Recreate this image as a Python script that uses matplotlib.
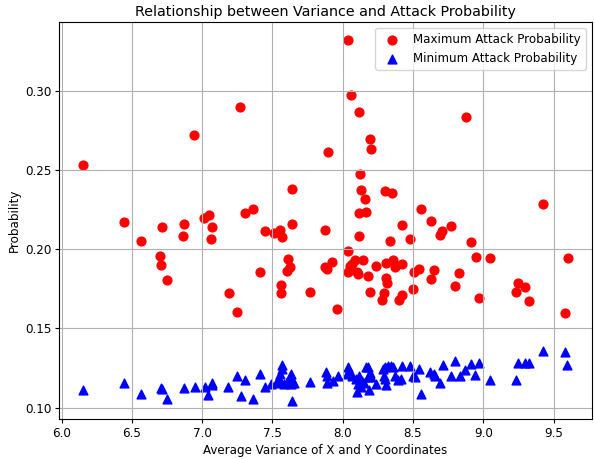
import matplotlib
matplotlib.use("Agg")
import matplotlib.pyplot as plt

# values
max_x = [6.154, 6.442, 6.562, 6.718, 6.697, 6.709, 6.751, 6.874, 6.867, 6.945,
         7.011, 7.047, 7.068, 7.063, 7.188, 7.249, 7.273, 7.304, 7.361, 7.415,
         7.446, 7.514, 7.557, 7.571, 7.611, 7.623, 7.604, 7.561, 7.559, 7.637,
         7.637, 7.769, 7.873, 7.887, 7.877, 7.892, 7.927, 7.962, 8.036, 8.060,
         8.114, 8.038, 8.035, 8.050, 8.066, 8.090, 8.099, 8.106, 8.116, 8.116,
         8.120, 8.130, 8.142, 8.158, 8.165, 8.182, 8.191, 8.203, 8.191, 8.236,
         8.281, 8.297, 8.302, 8.307, 8.309, 8.316, 8.335, 8.354, 8.361, 8.370,
         8.401, 8.420, 8.422, 8.425, 8.479, 8.502, 8.505, 8.542, 8.559, 8.625,
         8.627, 8.653, 8.691, 8.708, 8.771, 8.797, 8.825, 8.875, 8.911, 8.946,
         8.970, 9.047, 9.234, 9.248, 9.300, 9.329, 9.428, 9.584, 9.600]
max_p = [0.2530, 0.2170, 0.2055, 0.2138, 0.1956, 0.1901, 0.1804, 0.2159, 0.2083, 0.2722,
         0.2199, 0.2215, 0.2143, 0.2067, 0.1722, 0.1606, 0.2898, 0.2230, 0.2251, 0.1859,
         0.2114, 0.2101, 0.2120, 0.2076, 0.1937, 0.1890, 0.1865, 0.1774, 0.1726, 0.2381,
         0.2162, 0.1732, 0.1890, 0.1873, 0.2122, 0.2614, 0.1920, 0.1622, 0.3320, 0.2971,
         0.2868, 0.1987, 0.1859, 0.1895, 0.1905, 0.1932, 0.1857, 0.1846, 0.2082, 0.2228,
         0.2473, 0.2372, 0.1930, 0.2320, 0.2232, 0.1829, 0.2698, 0.2635, 0.1728, 0.1892,
         0.1679, 0.1726, 0.2365, 0.1914, 0.1817, 0.1789, 0.2055, 0.2354, 0.1933, 0.1888,
         0.1682, 0.1909, 0.1713, 0.2150, 0.2063, 0.1749, 0.1857, 0.1878, 0.2255, 0.2177,
         0.1814, 0.1869, 0.2089, 0.2116, 0.2148, 0.1770, 0.1847, 0.2835, 0.2044, 0.1952,
         0.1694, 0.1943, 0.1732, 0.1787, 0.1761, 0.1672, 0.2283, 0.1596, 0.1943]

min_x = [6.155, 6.442, 6.563, 6.707, 6.717, 6.753, 6.872, 6.946, 7.019, 7.069,
         7.072, 7.045, 7.185, 7.245, 7.274, 7.306, 7.361, 7.414, 7.446, 7.490,
         7.566, 7.566, 7.557, 7.629, 7.528, 7.557, 7.581, 7.605, 7.634, 7.653,
         7.549, 7.624, 7.639, 7.769, 7.878, 7.885, 7.890, 7.931, 7.967, 8.039,
         8.049, 8.032, 8.068, 8.097, 8.116, 8.112, 8.136, 8.102, 8.128, 8.165,
         8.182, 8.194, 8.177, 8.201, 8.189, 8.237, 8.153, 8.285, 8.304, 8.324,
         8.345, 8.357, 8.292, 8.304, 8.309, 8.369, 8.393, 8.418, 8.425, 8.478,
         8.502, 8.514, 8.546, 8.558, 8.623, 8.647, 8.659, 8.695, 8.712, 8.773,
         8.797, 8.835, 8.871, 8.913, 8.942, 8.968, 9.050, 9.233, 9.245, 9.294,
         9.328, 9.426, 9.583, 9.595]
min_p = [0.1109, 0.1157, 0.1088, 0.1123, 0.1119, 0.1056, 0.1126, 0.1128, 0.1128, 0.1157,
         0.1140, 0.1077, 0.1128, 0.1197, 0.1071, 0.1176, 0.1052, 0.1213, 0.1128, 0.1151,
         0.1272, 0.1245, 0.1213, 0.1213, 0.1157, 0.1161, 0.1151, 0.1165, 0.1151, 0.1157,
         0.1182, 0.1193, 0.1042, 0.1165, 0.1224, 0.1199, 0.1157, 0.1167, 0.1199, 0.1255,
         0.1224, 0.1213, 0.1199, 0.1178, 0.1203, 0.1151, 0.1167, 0.1098, 0.1130, 0.1255,
         0.1259, 0.1218, 0.1193, 0.1193, 0.1113, 0.1151, 0.1155, 0.1245, 0.1255, 0.1266,
         0.1266, 0.1255, 0.1203, 0.1182, 0.1146, 0.1203, 0.1172, 0.1178, 0.1266, 0.1266,
         0.1203, 0.1193, 0.1245, 0.1084, 0.1224, 0.1213, 0.1203, 0.1155, 0.1272, 0.1197,
         0.1293, 0.1203, 0.1239, 0.1276, 0.1209, 0.1280, 0.1176, 0.1176, 0.1280, 0.1280,
         0.1285, 0.1356, 0.1349, 0.1272]

plt.rcParams['font.size'] = 8.6
plt.rcParams['xtick.major.size'] = 2.8
plt.rcParams['ytick.major.size'] = 2.8
plt.rcParams['xtick.major.pad'] = 2.8
plt.rcParams['ytick.major.pad'] = 2.8
plt.rcParams['axes.labelpad'] = 3.0

fig = plt.figure(figsize=(5.94, 4.59), dpi=100)
ax = fig.add_axes([0.0993, 0.087, 0.897, 0.865])

ax.scatter(max_x, max_p, color='red', marker='o', s=40, label='Maximum Attack Probability')
ax.scatter(min_x, min_p, color='blue', marker='^', s=40, label='Minimum Attack Probability')

ax.set_title('Relationship between Variance and Attack Probability', fontsize=10.3, pad=4.5)
ax.set_xlabel('Average Variance of X and Y Coordinates')
ax.set_ylabel('Probability')
ax.legend(loc='upper right')
ax.grid(True)

fig.savefig('out.png', dpi=100)
